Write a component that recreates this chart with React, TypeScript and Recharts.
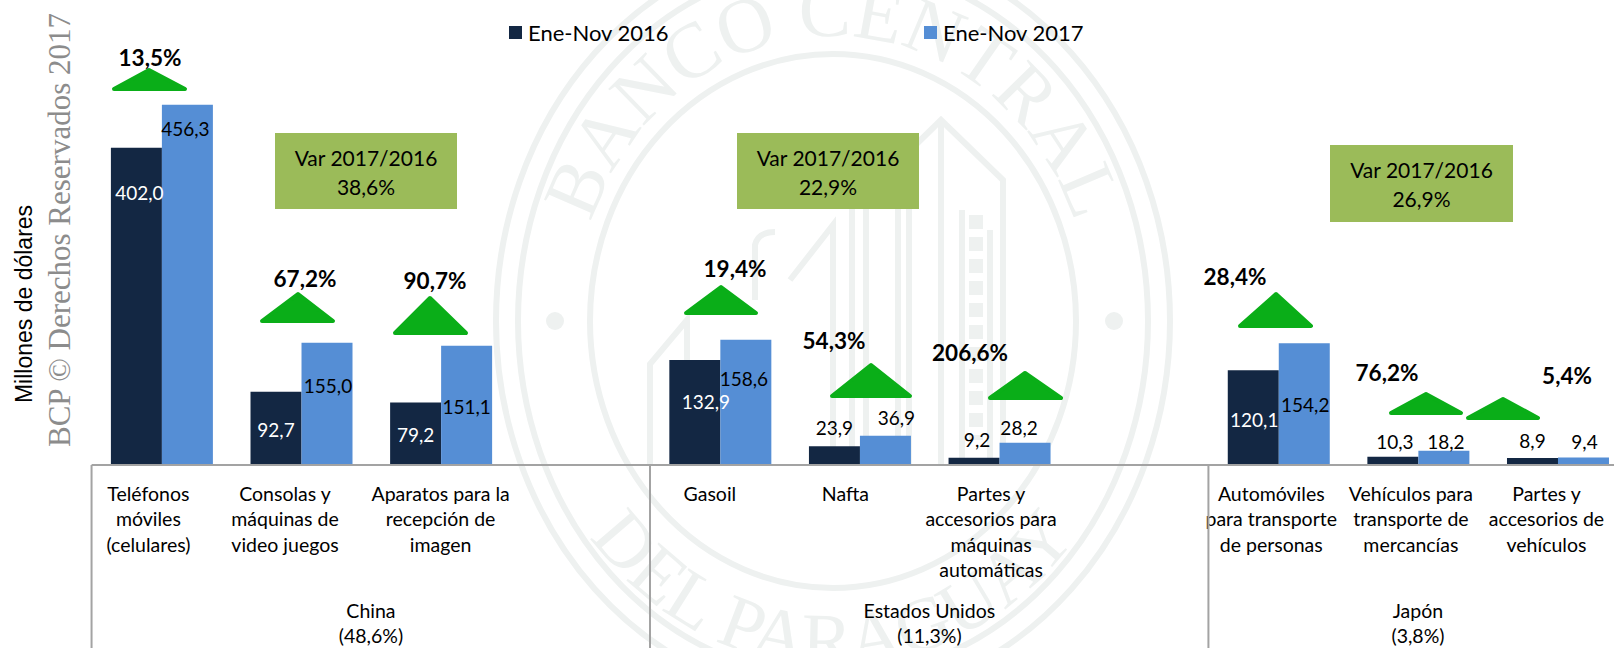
import { BarChart, Bar, XAxis, YAxis, LabelList, Legend } from "recharts";

const FONT = "Lato, 'Open Sans', sans-serif";
const SERIF = "'Liberation Serif', serif";
const SEAL = "#eef1f0";
const SLOT = 139.7;

// one entry per axis slot, empty slots separate the countries
const categories = [
  "Teléfonos|móviles|(celulares)",
  "Consolas y|máquinas de|video juegos",
  "Aparatos para la|recepción de|imagen",
  "",
  "Gasoil",
  "Nafta",
  "Partes y|accesorios para|máquinas|automáticas",
  "",
  "Automóviles|para transporte|de personas",
  "Vehículos para|transporte de|mercancías",
  "Partes y|accesorios de|vehículos",
];
const values2016 = [402.0, 92.7, 79.2, null, 132.9, 23.9, 9.2, null, 120.1, 10.3, 8.9];
const values2017 = [456.3, 155.0, 151.1, null, 158.6, 36.9, 28.2, null, 154.2, 18.2, 9.4];
const groups = [
  { slot: 0, name: "China", share: "(48,6%)" },
  { slot: 4, name: "Estados Unidos", share: "(11,3%)" },
  { slot: 8, name: "Japón", share: "(3,8%)" },
];
const groupSlots = [4, 4, 3];

const data = categories.map((c, i) => ({ name: c, y2016: values2016[i], y2017: values2017[i] }));

// hand placed value labels (bars only, empty slots are skipped by LabelList):
// dx from bar centre, dy from bar top, colour
const labelPos2016: [number, number, string][] = [
  [3, 45, "#fff"], [0, 38, "#fff"], [0, 32, "#fff"], [11, 41, "#fff"], [0, -19, "#000"],
  [3, -18, "#000"], [1, 49, "#fff"], [2, -15, "#000"], [0, -17, "#000"],
];
const labelPos2017: [number, number, string][] = [
  [-2, 24, "#000"], [1, 43, "#000"], [0, 61, "#000"], [-2, 39, "#000"], [11, -18, "#000"],
  [-6, -15, "#000"], [1, 61, "#000"], [2, -9, "#000"], [1, -16, "#000"],
];
// shift of the category text from the slot centre
const labelShift = [-13, -16, 0, 0, -10, -14, -8, 0, -7, -7, -11];

const arrows = [
  { text: "13,5%", tx: 150, ty: 57, x0: 112, x1: 187, ax: 149, ay: 68, by: 91 },
  { text: "67,2%", tx: 305, ty: 278, x0: 260, x1: 335, ax: 298, ay: 292, by: 323 },
  { text: "90,7%", tx: 435, ty: 280, x0: 393, x1: 468, ax: 430, ay: 296, by: 335 },
  { text: "19,4%", tx: 735, ty: 268, x0: 684, x1: 758, ax: 721, ay: 285, by: 315 },
  { text: "54,3%", tx: 834, ty: 340, x0: 830, x1: 912, ax: 871, ay: 363, by: 398 },
  { text: "206,6%", tx: 970, ty: 352, x0: 988, x1: 1063, ax: 1025, ay: 371, by: 400 },
  { text: "28,4%", tx: 1235, ty: 276, x0: 1238, x1: 1313, ax: 1276, ay: 292, by: 328 },
  { text: "76,2%", tx: 1387, ty: 372, x0: 1389, x1: 1463, ax: 1426, ay: 392, by: 415 },
  { text: "5,4%", tx: 1567, ty: 375, x0: 1466, x1: 1540, ax: 1503, ay: 397, by: 420 },
];
const varBoxes = [
  { x: 275, y: 133, w: 182, h: 76, value: "38,6%" },
  { x: 737, y: 133, w: 182, h: 76, value: "22,9%" },
  { x: 1330, y: 145, w: 183, h: 77, value: "26,9%" },
];

const fmt = (v: number) => v.toFixed(1).replace(".", ",");

function valueLabel(pos: [number, number, string][]) {
  return (props: any) => {
    const { x, y, width, value, index } = props;
    if (value == null) return null;
    const [dx, dy, fill] = pos[index];
    return (
      <text x={x + width / 2 + dx} y={y + dy} fill={fill} fontFamily={FONT} fontSize={19} textAnchor="middle" dominantBaseline="central">
        {fmt(value)}
      </text>
    );
  };
}

function CategoryTick(props: any) {
  const { x, y, index, payload } = props;
  const lines = String(payload.value).split("|").filter(Boolean);
  const left = x - SLOT / 2;
  const group = groups.find(g => g.slot === index);
  const gi = group ? groups.indexOf(group) : 0;
  return (
    <g fontFamily={FONT} fontSize={19.5} fill="#000" textAnchor="middle">
      {lines.map((l, i) => (
        <text key={i} x={x + labelShift[index]} y={493 + i * 25.6} dominantBaseline="central">{l}</text>
      ))}
      {group && (
        <>
          <line x1={left} x2={left} y1={y - 8} y2={660} stroke="#a3a3a3" strokeWidth={2} />
          <text x={left + (groupSlots[gi] * SLOT) / 2} y={610} dominantBaseline="central">{group.name}</text>
          <text x={left + (groupSlots[gi] * SLOT) / 2} y={635} dominantBaseline="central">{group.share}</text>
        </>
      )}
    </g>
  );
}

function ChartLegend({ payload }: any) {
  return (
    <div style={{ position: "relative", height: 24, fontFamily: FONT, fontSize: 22 }}>
      {(payload || []).map((p: any, i: number) => (
        <div key={p.value} style={{ position: "absolute", left: i === 0 ? 0 : 415, top: 0, display: "flex", alignItems: "center", whiteSpace: "nowrap" }}>
          <span style={{ width: 13, height: 13, background: p.color, marginRight: 6 }} />
          {p.value}
        </div>
      ))}
    </div>
  );
}

// faint seal behind the chart
function Seal() {
  return (
    <svg width={1614} height={648} style={{ position: "absolute", left: 0, top: 0 }}>
      <defs>
        <path id="sealTop" d="M 575 321 A 258 285 0 0 1 1091 321" />
        <path id="sealBottom" d="M 521 321 A 312 345 0 0 0 1145 321" />
      </defs>
      <g fill="none" stroke={SEAL} strokeWidth={6}>
        <ellipse cx={833} cy={321} rx={337} ry={379} />
        <ellipse cx={833} cy={321} rx={315} ry={357} />
        <ellipse cx={833} cy={321} rx={243} ry={267} />
        <path d="M 650 465 L 650 364 L 687 320 L 687 465 M 755 300 L 755 245 Q 758 232 775 232 M 790 280 L 833 225 L 833 465" />
        <path d="M 852 207 V 465 M 866 207 V 465 M 898 207 V 465 M 909 207 V 465" />
        <path d="M 890 170 L 941 120 L 1003 180 V 465 M 941 120 V 465 M 962 210 V 465 M 990 230 V 465" />
        <path d="M 976 215 V 440" strokeWidth={14} strokeDasharray="14 8" />
      </g>
      <circle cx={555} cy={321} r={9} fill={SEAL} />
      <circle cx={1114} cy={321} r={9} fill={SEAL} />
      <text fontFamily={SERIF} fontSize={78} fill={SEAL}>
        <textPath href="#sealTop" startOffset="50%" textAnchor="middle">BANCO CENTRAL</textPath>
      </text>
      <text fontFamily={SERIF} fontSize={76} fill={SEAL}>
        <textPath href="#sealBottom" startOffset="50%" textAnchor="middle">DEL PARAGUAY</textPath>
      </text>
    </svg>
  );
}

export default function App() {
  return (
    <div style={{ position: "absolute", left: 0, top: 0, width: 1614, height: 648, overflow: "hidden", background: "#fff" }}>
      <Seal />
      <div style={{ position: "absolute", left: 0, top: 0 }}>
        <BarChart
          width={1640}
          height={648}
          data={data}
          margin={{ top: 0, right: 12.7, bottom: 0, left: 91.6 }}
          barCategoryGap={19.3}
          barGap={0}
        >
          <XAxis
            dataKey="name"
            interval={0}
            height={183}
            tickLine={false}
            axisLine={{ stroke: "#a3a3a3", strokeWidth: 2 }}
            tick={CategoryTick}
          />
          <YAxis hide domain={[0, 589]} />
          <Legend
            verticalAlign="middle"
            align="center"
            content={ChartLegend}
            wrapperStyle={{ left: 509, top: 19, width: 700 }}
          />
          <Bar dataKey="y2016" name="Ene-Nov 2016" fill="#132743" isAnimationActive={false}>
            <LabelList dataKey="y2016" content={valueLabel(labelPos2016)} />
          </Bar>
          <Bar dataKey="y2017" name="Ene-Nov 2017" fill="#558ED5" isAnimationActive={false}>
            <LabelList dataKey="y2017" content={valueLabel(labelPos2017)} />
          </Bar>
        </BarChart>
      </div>
      <svg width={1614} height={648} style={{ position: "absolute", left: 0, top: 0, pointerEvents: "none" }}>
        <g transform="translate(24 304) rotate(-90)">
          <text textAnchor="middle" dominantBaseline="central" fontFamily="'Liberation Sans', sans-serif" fontSize={23} fill="#000">Millones de dólares</text>
        </g>
        <g transform="translate(59 230) rotate(-90)">
          <text textAnchor="middle" dominantBaseline="central" fontFamily={SERIF} fontSize={31} fill="#8c8c8c">BCP © Derechos Reservados 2017</text>
        </g>
        {arrows.map(a => (
          <g key={a.text}>
            <polygon
              points={`${a.x0 + 2},${a.by - 2} ${a.ax},${a.ay + 2} ${a.x1 - 2},${a.by - 2}`}
              fill="#0AAE18"
              stroke="#0AAE18"
              strokeWidth={4}
              strokeLinejoin="round"
            />
            <text x={a.tx} y={a.ty} textAnchor="middle" dominantBaseline="central" fontFamily={FONT} fontWeight={700} fontSize={22.5} fill="#000">
              {a.text}
            </text>
          </g>
        ))}
        {varBoxes.map(b => (
          <g key={b.value} fontFamily={FONT} fontSize={21} fill="#000" textAnchor="middle">
            <rect x={b.x} y={b.y} width={b.w} height={b.h} fill="#9BBB59" />
            <text x={b.x + b.w / 2} y={b.y + 24} dominantBaseline="central">Var 2017/2016</text>
            <text x={b.x + b.w / 2} y={b.y + 53} dominantBaseline="central">{b.value}</text>
          </g>
        ))}
      </svg>
    </div>
  );
}
